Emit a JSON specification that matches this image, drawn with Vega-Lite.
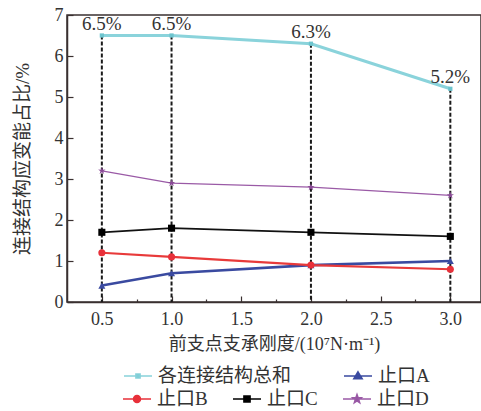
{
  "$schema": "https://vega.github.io/schema/vega-lite/v6.json",
  "width": 414,
  "height": 287,
  "autosize": {"type": "none"},
  "padding": {"left": 67, "top": 15, "right": 0, "bottom": 109},
  "background": "white",
  "config": {
    "view": {"stroke": "#3a3030", "strokeWidth": 1.5},
    "font": "Liberation Serif",
    "axis": {
      "labelFont": "Liberation Serif",
      "titleFont": "Liberation Serif, Noto Sans CJK SC",
      "labelFontSize": 18,
      "titleFontSize": 18,
      "labelColor": "#333",
      "titleColor": "#333",
      "titleFontWeight": "normal",
      "domainColor": "#3a3030",
      "domainWidth": 1.5,
      "tickColor": "#3a3030",
      "tickWidth": 1.2,
      "grid": false
    },
    "legend": {
      "labelFont": "Liberation Serif, Noto Sans CJK SC",
      "labelFontSize": 19,
      "labelColor": "#333"
    }
  },
  "datasets": {
    "pts": [
      {"x": 0.5, "y": 6.5, "s": "各连接结构总和", "label": "6.5%"},
      {"x": 1.0, "y": 6.5, "s": "各连接结构总和", "label": "6.5%"},
      {"x": 2.0, "y": 6.3, "s": "各连接结构总和", "label": "6.3%"},
      {"x": 3.0, "y": 5.2, "s": "各连接结构总和", "label": "5.2%"},
      {"x": 0.5, "y": 0.4, "s": "止口A"},
      {"x": 1.0, "y": 0.7, "s": "止口A"},
      {"x": 2.0, "y": 0.9, "s": "止口A"},
      {"x": 3.0, "y": 1.0, "s": "止口A"},
      {"x": 0.5, "y": 1.2, "s": "止口B"},
      {"x": 1.0, "y": 1.1, "s": "止口B"},
      {"x": 2.0, "y": 0.9, "s": "止口B"},
      {"x": 3.0, "y": 0.8, "s": "止口B"},
      {"x": 0.5, "y": 1.7, "s": "止口C"},
      {"x": 1.0, "y": 1.8, "s": "止口C"},
      {"x": 2.0, "y": 1.7, "s": "止口C"},
      {"x": 3.0, "y": 1.6, "s": "止口C"},
      {"x": 0.5, "y": 3.2, "s": "止口D"},
      {"x": 1.0, "y": 2.9, "s": "止口D"},
      {"x": 2.0, "y": 2.8, "s": "止口D"},
      {"x": 3.0, "y": 2.6, "s": "止口D"}
    ]
  },
  "layer": [
    {
      "data": {"name": "pts"},
      "transform": [{"filter": "datum.s === '各连接结构总和'"}],
      "mark": {"type": "rule", "color": "#1a1a1a", "strokeWidth": 2, "strokeDash": [4, 2]},
      "encoding": {
        "x": {
          "field": "x", "type": "quantitative",
          "scale": {"domain": [0.25, 3.22], "nice": false, "zero": false},
          "axis": {
            "values": [0.5, 0.75, 1.0, 1.25, 1.5, 1.75, 2.0, 2.25, 2.5, 2.75, 3.0],
            "labelExpr": "datum.value % 0.5 === 0 ? format(datum.value, '.1f') : ''",
            "tickSize": {"condition": {"test": "datum.value % 0.5 === 0", "value": -6}, "value": -3},
            "labelPadding": 14,
            "title": "前支点支承刚度/(10⁷N·m⁻¹)",
            "titlePadding": 7
          }
        },
        "y": {
          "field": "y", "type": "quantitative",
          "scale": {"domain": [0, 7], "nice": false},
          "axis": {
            "values": [0, 0.5, 1, 1.5, 2, 2.5, 3, 3.5, 4, 4.5, 5, 5.5, 6, 6.5, 7],
            "labelExpr": "datum.value % 1 === 0 ? datum.label : ''",
            "tickSize": {"condition": {"test": "datum.value % 1 === 0", "value": -6}, "value": -3},
            "labelPadding": 10,
            "title": "连接结构应变能占比/%",
            "titleFontSize": 19,
            "titlePadding": 22
          }
        },
        "y2": {"datum": 0}
      }
    },
    {
      "data": {"name": "pts"},
      "mark": {"type": "line"},
      "encoding": {
        "x": {"field": "x", "type": "quantitative"},
        "y": {"field": "y", "type": "quantitative"},
        "color": {
          "field": "s", "type": "nominal",
          "scale": {"domain": ["各连接结构总和", "止口A", "止口B", "止口C", "止口D"], "range": ["#8ad3db", "#3a4aa0", "#e83a3a", "#111111", "#9a5aa6"]},
          "legend": null
        },
        "strokeWidth": {
          "field": "s", "type": "nominal",
          "scale": {"domain": ["各连接结构总和", "止口A", "止口B", "止口C", "止口D"], "range": [3, 1.3, 1.3, 1.5, 1.3]},
          "legend": null
        }
      }
    },
    {
      "data": {"name": "pts"},
      "mark": {"type": "point", "filled": true, "opacity": 1, "size": 50},
      "encoding": {
        "x": {"field": "x", "type": "quantitative"},
        "y": {"field": "y", "type": "quantitative"},
        "color": {
          "field": "s", "type": "nominal",
          "scale": {"domain": ["各连接结构总和", "止口A", "止口B", "止口C", "止口D"], "range": ["#6cc4ce", "#3a4aa0", "#e8303a", "#000000", "#8a4a96"]},
          "legend": null
        },
        "shape": {
          "field": "s", "type": "nominal",
          "scale": {"domain": ["各连接结构总和", "止口A", "止口B", "止口C", "止口D"], "range": ["M-0.6,-0.6H0.6V0.6H-0.6Z", "triangle-up", "circle", "square", "M0,-1.1L0.24,-0.33L1.05,-0.34L0.39,0.12L0.65,0.89L0,0.41L-0.65,0.89L-0.39,0.12L-1.05,-0.34L-0.24,-0.33Z"]},
          "legend": null
        }
      }
    },
    {
      "data": {"name": "pts"},
      "transform": [{"filter": "datum.s === '各连接结构总和'"}],
      "mark": {"type": "text", "dy": -12, "fontSize": 19, "font": "Liberation Serif", "color": "#333"},
      "encoding": {
        "x": {"field": "x", "type": "quantitative"},
        "y": {"field": "y", "type": "quantitative"},
        "text": {"field": "label"}
      }
    },
    {
      "data": {"name": "pts"},
      "transform": [{"filter": "datum.s === '各连接结构总和' || datum.s === '止口A'"}],
      "mark": {"type": "point", "opacity": 0},
      "encoding": {
        "x": {"field": "x", "type": "quantitative"},
        "y": {"field": "y", "type": "quantitative"},
        "fill": {
          "field": "s", "type": "nominal", "title": null,
          "scale": {"domain": ["各连接结构总和", "止口A"], "range": ["#6cc4ce", "#3a4aa0"]},
          "legend": {"orient": "none", "legendX": 56, "legendY": 346, "columns": 2, "columnPadding": 49, "symbolSize": 784, "symbolStrokeWidth": 1.5, "symbolOpacity": 1, "labelOffset": 5, "title": null}
        },
        "stroke": {
          "field": "s", "type": "nominal", "title": null,
          "scale": {"domain": ["各连接结构总和", "止口A"], "range": ["#88d2da", "#3a4aa0"]},
          "legend": {"orient": "none", "legendX": 56, "legendY": 346, "columns": 2, "columnPadding": 49, "symbolSize": 784, "symbolStrokeWidth": 1.5, "symbolOpacity": 1, "labelOffset": 5, "title": null}
        },
        "shape": {
          "field": "s", "type": "nominal", "title": null,
          "scale": {"domain": ["各连接结构总和", "止口A"], "range": ["M-1,0L1,0M-0.15,-0.15H0.15V0.15H-0.15Z", "M-1,0L1,0M0,-0.3L0.3,0.2L-0.3,0.2Z"]},
          "legend": {"orient": "none", "legendX": 56, "legendY": 346, "columns": 2, "columnPadding": 49, "symbolSize": 784, "symbolStrokeWidth": 1.5, "symbolOpacity": 1, "labelOffset": 5, "title": null}
        }
      }
    },
    {
      "data": {"name": "pts"},
      "transform": [{"filter": "datum.s === '止口B' || datum.s === '止口C' || datum.s === '止口D'"}],
      "mark": {"type": "point", "opacity": 0},
      "encoding": {
        "x": {"field": "x", "type": "quantitative"},
        "y": {"field": "y", "type": "quantitative"},
        "fill": {
          "field": "s", "type": "nominal", "title": null,
          "scale": {"domain": ["止口B", "止口C", "止口D"], "range": ["#e8303a", "#000000", "#8a4a96"]},
          "legend": {"orient": "none", "legendX": 55, "legendY": 369, "columns": 3, "columnPadding": 22, "symbolSize": 784, "symbolStrokeWidth": 1.5, "symbolOpacity": 1, "labelOffset": 5, "title": null}
        },
        "stroke": {
          "field": "s", "type": "nominal", "title": null,
          "scale": {"domain": ["止口B", "止口C", "止口D"], "range": ["#e8303a", "#000000", "#9a5aa6"]},
          "legend": {"orient": "none", "legendX": 55, "legendY": 369, "columns": 3, "columnPadding": 22, "symbolSize": 784, "symbolStrokeWidth": 1.5, "symbolOpacity": 1, "labelOffset": 5, "title": null}
        },
        "shape": {
          "field": "s", "type": "nominal", "title": null,
          "scale": {"domain": ["止口B", "止口C", "止口D"], "range": ["M-1,0L1,0M-0.25,0A0.25,0.25 0 1,0 0.25,0A0.25,0.25 0 1,0 -0.25,0Z", "M-1,0L1,0M-0.22,-0.22H0.22V0.22H-0.22Z", "M-1,0L1,0M0,-0.32L0.076,-0.105L0.304,-0.099L0.124,0.04L0.188,0.259L0,0.13L-0.188,0.259L-0.124,0.04L-0.304,-0.099L-0.076,-0.105Z"]},
          "legend": {"orient": "none", "legendX": 55, "legendY": 369, "columns": 3, "columnPadding": 22, "symbolSize": 784, "symbolStrokeWidth": 1.5, "symbolOpacity": 1, "labelOffset": 5, "title": null}
        }
      }
    }
  ],
  "resolve": {
    "scale": {"color": "independent", "fill": "independent", "stroke": "independent", "shape": "independent", "strokeWidth": "independent"},
    "legend": {"color": "independent", "fill": "independent", "stroke": "independent", "shape": "independent"}
  }
}
